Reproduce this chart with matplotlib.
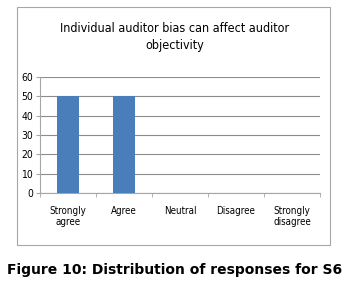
import numpy as np
import matplotlib.pyplot as plt
from matplotlib.patches import Rectangle

categories = ["Strongly\nagree", "Agree", "Neutral", "Disagree", "Strongly\ndisagree"]
values = [50, 50, 0, 0, 0]
yticks = [0, 10, 20, 30, 40, 50, 60]

W, H = 349, 283
plt.rcParams['font.family'] = ['DejaVu Sans']
plt.rcParams['font.stretch'] = 'condensed'

fig = plt.figure(figsize=(W / 100, H / 100), dpi=100)

# outer chart frame
fig.patches.append(Rectangle((17 / W, 1 - 245 / H), 313 / W, 238 / H,
                             transform=fig.transFigure, fill=False,
                             edgecolor="#a6a6a6", linewidth=0.8))

ax = fig.add_axes([40 / W, 1 - 193 / H, 280 / W, 116 / H])
x = np.arange(len(categories))
ax.bar(x, values, width=0.4, color="#4a7ebb", zorder=3)

ax.set_xlim(-0.5, len(categories) - 0.5)
ax.set_ylim(0, 60)
ax.set_yticks(yticks)
ax.set_xticks(x)
ax.set_xticklabels(categories, fontsize=7, linespacing=1.2)
ax.set_xticks(np.arange(-0.5, len(categories)), minor=True)
ax.tick_params(axis='x', which='major', length=0, pad=9)
ax.tick_params(axis='x', which='minor', length=3, color="#a6a6a6")
ax.tick_params(axis='y', length=3, color="#a6a6a6", labelsize=7.5, pad=2)
ax.grid(axis='y', color="#8c8c8c", linewidth=0.8, zorder=0)

for s in ["top", "right"]:
    ax.spines[s].set_visible(False)
ax.spines["left"].set_color("#a6a6a6")
ax.spines["bottom"].set_color("#a6a6a6")

fig.text(175 / W, 1 - 37 / H, "Individual auditor bias can affect auditor\nobjectivity",
         ha="center", va="center", fontsize=9, linespacing=1.5)

fig.text(175 / W, 1 - 270 / H, "Figure 10: Distribution of responses for S6",
         ha="center", va="center", fontsize=10, fontweight="bold",
         family="DejaVu Sans", fontstretch="normal")

fig.savefig("out.png", dpi=100)
